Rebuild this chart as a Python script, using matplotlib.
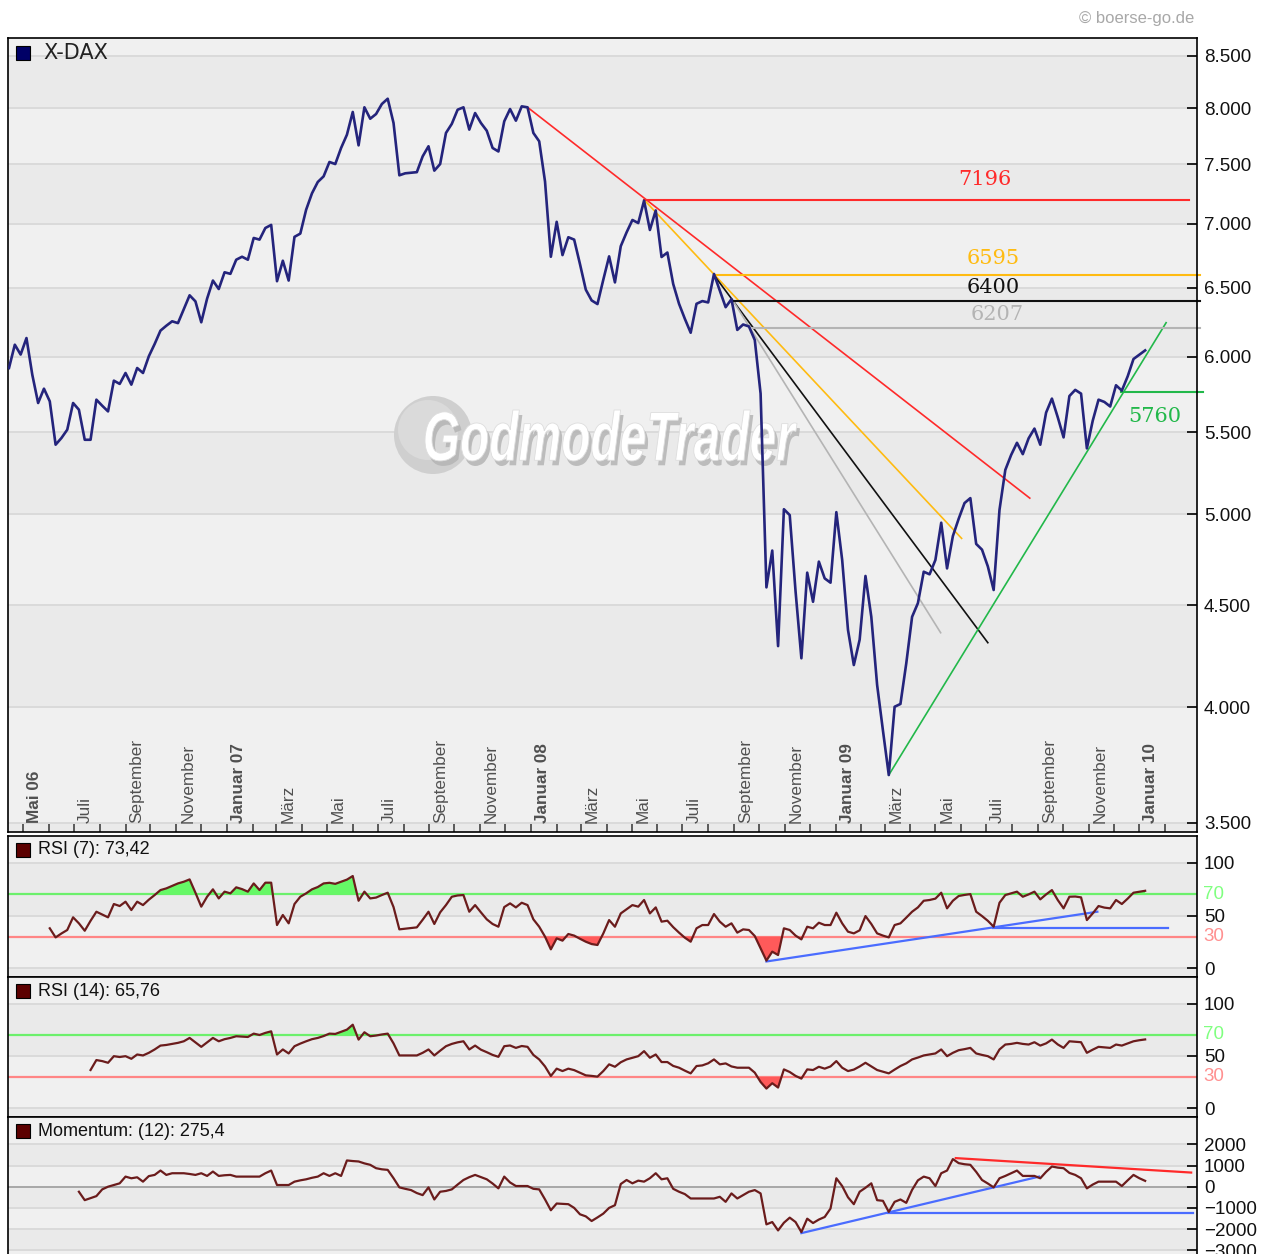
#!/usr/bin/env python
"""
X-DAX Wochenchart mit RSI(7), RSI(14) und Momentum(12)
"""

from datetime import date
import numpy as np
import matplotlib
matplotlib.use('Agg')
import matplotlib.pyplot as plt
import matplotlib.transforms as mtransforms
from matplotlib.patches import Circle, PathPatch, Rectangle
from matplotlib.textpath import TextPath
from matplotlib.font_manager import FontProperties
from matplotlib.ticker import NullLocator

plt.rcParams['font.family'] = ['Liberation Sans', 'DejaVu Sans']

W, H = 1270, 1254
START = date(2006, 4, 14)   # erster Wochenschluss

# Wochenschlusskurse X-DAX
dax = [
    5923, 6085, 6016, 6132, 5877, 5688, 5783, 5699, 5420, 5462,
    5515, 5688, 5644, 5451, 5451, 5710, 5670, 5633, 5837, 5815,
    5889, 5810, 5923, 5889, 6004, 6090, 6185, 6220, 6252, 6239,
    6340, 6443, 6398, 6245, 6418, 6554, 6490, 6617, 6605, 6714,
    6737, 6714, 6885, 6872, 6965, 6990, 6549, 6706, 6554, 6894,
    6920, 7114, 7250, 7346, 7394, 7518, 7500, 7641, 7759, 7966,
    7664, 8009, 7904, 7947, 8040, 8089, 7865, 7403, 7420, 7425,
    7430, 7567, 7656, 7443, 7500, 7775, 7857, 7987, 8009, 7805,
    7956, 7865, 7795, 7641, 7610, 7880, 7993, 7886, 8018, 8009,
    7775, 7700, 7350, 6737, 7015, 6750, 6891, 6872, 6680, 6485,
    6405, 6378, 6560, 6740, 6540, 6820, 6930, 7030, 7005, 7189,
    6949, 7108, 6735, 6770, 6528, 6380, 6270, 6170, 6380, 6400,
    6390, 6604, 6478, 6355, 6414, 6190, 6229, 6215, 6118, 5750,
    4595, 4795, 4293, 5030, 4996, 4574, 4233, 4674, 4519, 4734,
    4643, 4620, 5013, 4743, 4374, 4200, 4325, 4656, 4441, 4104,
    3893, 3698, 4002, 4015, 4208, 4441, 4512, 4679, 4665, 4743,
    4952, 4697, 4876, 4975, 5066, 5095, 4832, 4800, 4708, 4581,
    5026, 5264, 5356, 5432, 5361, 5460, 5522, 5420, 5625, 5717,
    5595, 5466, 5734, 5775, 5750, 5397, 5572, 5710, 5695, 5665,
    5806, 5770, 5866, 5985, 6015, 6045,
]

rsi7_start = 7
rsi7 = [
    37.9, 29.3, 33.0, 36.3, 48.3, 42.6, 35.6, 45.0, 53.6, 51.0,
    48.3, 60.9, 59.0, 63.1, 55.2, 63.1, 59.9, 65.0, 69.4, 74.1,
    75.7, 78.0, 80.4, 82.0, 84.2, 71.6, 58.4, 67.8, 74.8, 66.2,
    72.6, 71.0, 76.7, 75.0, 72.6, 80.4, 74.1, 81.1, 81.1, 41.0,
    50.5, 42.6, 60.9, 67.8, 71.0, 74.8, 77.0, 80.4, 81.0, 80.0,
    82.0, 84.0, 87.4, 64.0, 72.6, 66.2, 67.0, 69.4, 71.6, 58.0,
    36.9, 37.5, 38.0, 38.8, 46.0, 53.6, 42.0, 53.0, 59.9, 67.8,
    69.0, 69.4, 53.6, 59.9, 53.0, 46.4, 42.0, 39.4, 58.0, 61.5,
    57.7, 62.1, 59.9, 46.4, 39.4, 30.0, 18.0, 28.4, 26.2, 32.5,
    31.0, 28.0, 25.2, 23.0, 22.1, 33.0, 45.7, 39.4, 52.0, 56.0,
    59.9, 58.4, 64.7, 52.0, 57.7, 44.2, 45.1, 39.0, 33.8, 29.0,
    25.2, 37.9, 41.0, 41.0, 51.4, 44.2, 39.4, 42.6, 33.8, 36.9,
    36.3, 30.6, 18.9, 7.3, 15.8, 12.6, 37.9, 36.3, 31.0, 27.4,
    39.4, 37.9, 43.2, 41.0, 41.0, 52.7, 42.6, 34.7, 33.1, 36.0,
    49.5, 42.0, 33.1, 31.0, 29.3, 41.0, 42.6, 48.0, 53.6, 57.7,
    64.0, 64.7, 66.0, 71.6, 56.8, 64.0, 68.5, 69.5, 70.3, 53.6,
    49.5, 45.0, 39.4, 62.1, 69.4, 71.0, 72.6, 67.8, 70.0, 72.6,
    65.3, 70.0, 74.1, 64.7, 56.8, 67.8, 68.0, 67.2, 45.7, 52.0,
    59.0, 57.5, 56.8, 64.7, 60.9, 66.0, 71.6, 72.5, 73.42,
]

rsi14_start = 14
rsi14 = [
    36.6, 46.1, 45.1, 43.5, 49.8, 49.0, 49.8, 47.3, 51.4, 50.5,
    53.0, 56.2, 59.9, 60.5, 61.5, 62.5, 64.0, 67.2, 63.0, 58.7,
    63.0, 67.2, 64.0, 66.0, 67.2, 68.8, 68.5, 68.1, 71.3, 70.0,
    72.0, 73.5, 51.4, 56.2, 52.4, 59.3, 61.8, 64.0, 66.0, 67.2,
    69.0, 71.3, 71.0, 73.0, 75.1, 79.8, 65.6, 72.6, 68.8, 69.5,
    70.5, 71.3, 62.0, 50.5, 50.5, 50.5, 50.5, 53.0, 56.2, 50.5,
    55.0, 59.3, 61.5, 63.0, 64.0, 56.2, 59.9, 56.0, 53.6, 51.0,
    49.2, 59.3, 60.0, 57.7, 59.5, 58.7, 51.0, 46.7, 40.0, 30.9,
    37.9, 35.6, 37.9, 36.5, 34.0, 31.5, 31.0, 30.3, 35.6, 42.0,
    39.7, 44.0, 46.7, 48.3, 49.8, 54.6, 48.3, 51.4, 44.2, 44.2,
    40.5, 38.8, 36.0, 33.4, 40.4, 41.0, 43.0, 46.7, 42.0, 42.9,
    40.0, 38.8, 38.8, 38.8, 34.1, 25.2, 18.9, 24.0, 19.9, 37.2,
    34.7, 31.0, 28.4, 37.2, 36.6, 39.7, 37.9, 40.0, 45.1, 38.8,
    35.6, 37.0, 40.0, 43.5, 40.0, 36.6, 35.0, 33.4, 37.0, 40.4,
    43.0, 46.7, 48.5, 50.5, 51.5, 52.4, 56.2, 49.8, 53.0, 55.5,
    56.5, 57.7, 52.4, 51.0, 49.8, 46.7, 56.2, 60.9, 61.5, 62.5,
    61.5, 60.9, 63.1, 59.9, 62.0, 65.6, 61.0, 57.7, 64.0, 63.5,
    63.1, 53.0, 56.0, 58.7, 58.2, 57.7, 60.9, 59.9, 62.0, 64.0,
    65.0, 65.76,
]

mom_start = 12
mom12 = [
    -238, -635, -540, -444, -127, 0, 79, 159, 476, 397,
    444, 238, 500, 556, 762, 556, 635, 635, 635, 600,
    556, 635, 508, 714, 508, 540, 556, 476, 476, 476,
    476, 476, 635, 762, 79, 79, 79, 238, 300, 349,
    420, 476, 635, 508, 635, 508, 1238, 1210, 1190, 1100,
    1032, 873, 820, 794, 400, -32, -100, -159, -300, -397,
    -32, -603, -238, -200, -127, 100, 317, 450, 556, 450,
    349, 150, -79, 476, 200, 32, 32, 32, -100, -127,
    -600, -1111, -794, -810, -825, -1000, -1302, -1400, -1619, -1450,
    -1270, -1000, -873, 127, 317, 159, 286, 238, 400, 635,
    349, 397, -100, -238, -349, -556, -556, -556, -556, -556,
    -476, -714, -317, -556, -400, -238, -159, -317, -1778, -1667,
    -2063, -1700, -1460, -1667, -2143, -1508, -1714, -1550, -1429, -1032,
    397, 32, -500, -825, -238, -50, 159, -635, -667, -1190,
    -714, -603, -762, -150, 300, 476, 397, 32, 635, 762,
    1302, 1111, 1060, 1032, 700, 317, 150, -32, 397, 508,
    635, 762, 508, 508, 508, 397, 700, 952, 900, 873,
    650, 556, 397, -79, 100, 238, 238, 238, 238, 32,
    300, 556, 400, 275.4,
]

# Marken / Trendlinien im Kurschart: (Woche, Kurs)
marken = [7196, 6595, 6400, 6207, 5760]
marken_farben = ['#ff2a2a', '#ffbb11', '#111111', '#b4b4b4', '#22b84a']
marken_von = [109.0, 121.0, 124.3, 127.7, 190.8]
marken_bis = [202.5, 204.5, 204.5, 204.5, 205.0]
marken_text_x = [167.5, 168.9, 168.9, 169.6, 196.7]
marken_text_dy = [20, 17, 14, 13, -24]

trend_x = [(89.0, 175.2), (109.0, 163.5), (121.0, 168.0), (124.3, 159.9), (151.0, 198.6)]
trend_y = [(8009, 5095), (7196, 4863), (6595, 4310), (6400, 4360), (3698, 6242)]
trend_farben = ['#ff2a2a', '#ffbb11', '#111111', '#b4b4b4', '#22b84a']

# Trendlinien in den Indikatoren
rsi7_lines = [((130.0, 186.8), (6.5, 53.6)), ((168.9, 198.9), (38.6, 38.6))]
mom_lines_blue = [((136.0, 176.8), (-2190, 476)), ((150.9, 203.2), (-1238, -1238))]
mom_line_red = ((162.5, 202.9), (1349, 667))

MONATE = ['Januar', 'Februar', 'März', 'April', 'Mai', 'Juni', 'Juli',
          'August', 'September', 'Oktober', 'November', 'Dezember']

BAND = ['#f0f0f0', '#eaeaea']
GRID = '#dadada'
LINIE = '#6b1c1c'
XLIM = (-0.17, 203.9)


def week_of(d):
    return (d - START).days / 7.0


fig = plt.figure(figsize=(W / 100, H / 100), dpi=100)
fig.patch.set_facecolor('white')
PX = mtransforms.Affine2D().scale(1.0 / W, 1.0 / H) + fig.transFigure


def add_panel(top, bottom, left=8, right=1197):
    ax = fig.add_axes([left / W, 1 - bottom / H, (right - left) / W, (bottom - top) / H])
    for s in ax.spines.values():
        s.set_linewidth(1.2)
        s.set_color('black')
    ax.set_xlim(*XLIM)
    return ax


def stripes(ax, levels, lo, hi, special=None):
    edges = [lo] + list(levels) + [hi]
    for k in range(len(edges) - 1):
        ax.axhspan(edges[k], edges[k + 1], color=BAND[(len(edges) - k) % 2], lw=0, zorder=0)
    for lv in levels:
        c = '#a8a8a8' if lv == special else GRID
        ax.axhline(lv, color=c, lw=1.4, zorder=0.5)


def right_ticks(ax, ticks, labels):
    ax.yaxis.tick_right()
    ax.set_yticks(ticks)
    ax.set_yticklabels(labels)
    ax.yaxis.set_minor_locator(NullLocator())
    ax.tick_params(axis='y', direction='in', length=7, width=1.2, pad=5,
                   labelsize=13.5, labelcolor='#111111')


def header(y, text, color, size=13):
    fig.add_artist(Rectangle((16, H - y - 7), 14, 14, transform=PX,
                             facecolor=color, edgecolor='black', lw=0.8))
    fig.text(38 / W, 1 - y / H, text, va='center', ha='left', fontsize=size, color='#111111')


# ---------------- Kurschart ----------------
ax = add_panel(38, 832)
ax.set_yscale('log')
ax.set_ylim(3462, 8678)
levels = list(range(3500, 9000, 500))
stripes(ax, levels, 3462, 8678)
right_ticks(ax, levels, [f"{v:,}".replace(',', '.') for v in levels])

# Monatsachse
ticks, lab = [], []
y, m = 2006, 5
while (y, m) <= (2010, 2):
    ticks.append(week_of(date(y, m, 1)))
    lab.append((y, m))
    m += 1
    if m > 12:
        y, m = y + 1, 1
ax.set_xticks(ticks)
ax.set_xticklabels([])
ax.tick_params(axis='x', direction='in', length=6, width=1.1, color='#333333')
xt = mtransforms.offset_copy(mtransforms.blended_transform_factory(ax.transData, ax.transAxes),
                             fig=fig, x=4, y=9, units='dots')
for k, (pos, (yy, mm)) in enumerate(zip(ticks, lab)):
    if mm % 2 == 0:
        continue
    if mm == 1 or k == 0:
        txt = f"{MONATE[mm - 1]} {yy % 100:02d}"
        w = 'bold'
    else:
        txt = MONATE[mm - 1]
        w = 'normal'
    ax.text(pos, 0, txt, rotation=90, ha='left', va='bottom', transform=xt,
            fontsize=12.3, fontweight=w, color='#505050', zorder=5)

# Wasserzeichen
circ_outer = Circle((433, H - 435), 39, transform=PX, facecolor='#cfcfcf', edgecolor='none', zorder=1)
circ_inner = Circle((428, H - 430), 30, transform=PX, facecolor='#dadada', edgecolor='none', zorder=1)
ax.add_artist(circ_outer)
ax.add_artist(circ_inner)
fp = FontProperties(family='Liberation Sans', weight='bold', style='italic')
tp = TextPath((0, 0), 'GodmodeTrader', size=1, prop=fp)
bb = tp.get_extents()
sx = (797 - 425) / bb.width
sy = (461 - 410) / bb.height
for dx, dy, fc in [(3, -5, '#b4b4b4'), (0, 0, 'white')]:
    tr = (mtransforms.Affine2D().translate(-bb.x0, -bb.y0).scale(sx, sy)
          .translate(425 + dx, H - 461 + dy) + PX)
    ax.add_artist(PathPatch(tp, transform=tr, facecolor=fc, edgecolor='#dddddd' if fc == 'white' else 'none',
                            lw=0.6, zorder=1.2, alpha=0.85 if fc != 'white' else 1))

# Trendlinien und Marken
for (x0, x1), (y0, y1), c in zip(trend_x, trend_y, trend_farben):
    ax.plot([x0, x1], [y0, y1], color=c, lw=1.2, zorder=2)
for val, c, x0, x1, tx, dy in zip(marken, marken_farben, marken_von, marken_bis,
                                  marken_text_x, marken_text_dy):
    ax.plot([x0, x1], [val, val], color=c, lw=1.5, zorder=2, clip_on=False)
    tt = mtransforms.offset_copy(ax.transData, fig=fig, x=0, y=dy, units='dots')
    ax.text(tx, val, str(val), transform=tt, ha='center', va='center', color=c,
            fontsize=15, family='DejaVu Serif', zorder=5)

ax.plot(np.arange(len(dax)), dax, color='#24247c', lw=1.9, zorder=4, solid_joinstyle='round')
header(53, '', '#000066')
fig.text(43 / W, 1 - 53 / H, 'X-DAX', va='center', ha='left', fontsize=15,
         family='DejaVu Sans', color='#222222')

fig.text(1194 / W, 1 - 18 / H, '© boerse-go.de', ha='right', va='center',
         fontsize=12, color='#a8a8a8')


# ---------------- RSI-Panels ----------------
def rsi_panel(top, bottom, values, start, title, lines=()):
    a = add_panel(top, bottom)
    lo, hi = -8.2, 125.3
    a.set_ylim(lo, hi)
    stripes(a, [0, 50, 100], lo, hi)
    a.axhline(70, color='#6cf06c', lw=1.6, zorder=1)
    a.axhline(30, color='#ff8585', lw=1.6, zorder=1)
    x = np.arange(start, start + len(values))
    v = np.array(values, dtype=float)
    a.fill_between(x, v, 70, where=v >= 70, interpolate=True, color='#66f866', lw=0, zorder=2)
    a.fill_between(x, v, 30, where=v <= 30, interpolate=True, color='#ff5a5a', lw=0, zorder=2)
    for (x0, x1), (y0, y1) in lines:
        a.plot([x0, x1], [y0, y1], color='#4a6cff', lw=1.6, zorder=3)
    a.plot(x, v, color=LINIE, lw=1.6, zorder=4)
    a.set_xticks([])
    right_ticks(a, [0, 50, 100], ['0', '50', '100'])
    yt = mtransforms.offset_copy(mtransforms.blended_transform_factory(a.transAxes, a.transData),
                                 fig=fig, x=6, y=0, units='dots')
    a.text(1.0, 70, '70', transform=yt, va='center', ha='left', fontsize=13.5, color='#80ff80')
    a.text(1.0, 30, '30', transform=yt, va='center', ha='left', fontsize=13.5, color='#ff9090')
    header(top + 14, title, '#5c0000')
    return a


rsi_panel(836, 977, rsi7, rsi7_start, 'RSI (7): 73,42', rsi7_lines)
rsi_panel(977, 1117, rsi14, rsi14_start, 'RSI (14): 65,76')

# ---------------- Momentum ----------------
am = add_panel(1117, 1254)
am.set_ylim(-3175, 3288)
am.spines['bottom'].set_visible(False)
stripes(am, [-3000, -2000, -1000, 0, 1000, 2000], -3175, 3288, special=0)
xm = np.arange(mom_start, mom_start + len(mom12))
for (x0, x1), (y0, y1) in mom_lines_blue:
    am.plot([x0, x1], [y0, y1], color='#4a6cff', lw=1.6, zorder=3)
am.plot(mom_line_red[0], mom_line_red[1], color='#ff2a2a', lw=1.6, zorder=3)
am.plot(xm, mom12, color=LINIE, lw=1.6, zorder=4)
am.set_xticks([])
mt = [-3000, -2000, -1000, 0, 1000, 2000]
right_ticks(am, mt, [str(t).replace('-', '\u2212') for t in mt])
header(1131, 'Momentum: (12): 275,4', '#5c0000')

fig.savefig('out.png', dpi=100, facecolor='white')
